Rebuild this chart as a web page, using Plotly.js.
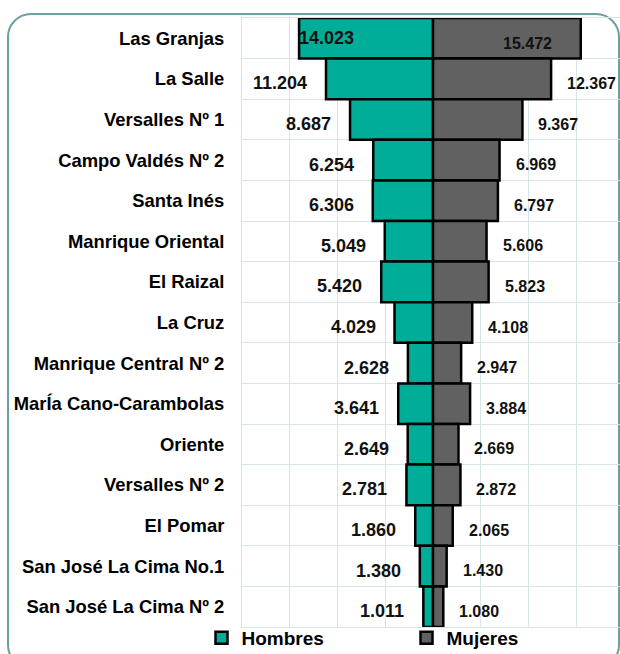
<!DOCTYPE html>
<html>
<head>
<meta charset="utf-8">
<script src="https://cdn.plot.ly/plotly-3.0.1.min.js"></script>
<style>
  html, body { margin: 0; padding: 0; overflow: hidden; background: #ffffff; width: 620px; height: 654px; }
  #frame { position: absolute; left: 7px; top: 13px; width: 613px; height: 656px; box-sizing: border-box;
           border: 2.5px solid #6a9fa3; border-radius: 24px; z-index: 0; }
  #chart { position: absolute; left: 0; top: 0; width: 630px; height: 700px; z-index: 1; }
</style>
</head>
<body>
<div id="frame"></div>
<div id="chart"></div>
<script>
const categories = [
  'Las Granjas', 'La Salle', 'Versalles Nº 1', 'Campo Valdés Nº 2', 'Santa Inés',
  'Manrique Oriental', 'El Raizal', 'La Cruz', 'Manrique Central Nº 2', 'MarÍa Cano-Carambolas',
  'Oriente', 'Versalles Nº 2', 'El Pomar', 'San José La Cima No.1', 'San José La Cima Nº 2'
];
const hombres = [14023, 11204, 8687, 6254, 6306, 5049, 5420, 4029, 2628, 3641, 2649, 2781, 1860, 1380, 1011];
const mujeres = [15472, 12367, 9367, 6969, 6797, 5606, 5823, 4108, 2947, 3884, 2669, 2872, 2065, 1430, 1080];

const FONT = 'Liberation Sans, Arial, sans-serif';
const fmt = v => Math.abs(v).toString().replace(/\B(?=(\d{3})+(?!\d))/g, '.');
const insideLimit = 13000; // labels of longer bars do not fit outside the axis range

const traces = [
  {
    type: 'bar', orientation: 'h', name: 'Hombres',
    y: categories, x: hombres.map(v => -v),
    marker: { color: '#00ad99', line: { color: '#000000', width: 2.5 } },
    hoverinfo: 'skip'
  },
  {
    type: 'bar', orientation: 'h', name: 'Mujeres',
    y: categories, x: mujeres,
    marker: { color: '#616161', line: { color: '#000000', width: 2.5 } },
    hoverinfo: 'skip'
  }
];

const annotations = [];
categories.forEach((c, i) => {
  const hIn = hombres[i] > insideLimit;
  annotations.push({
    xref: 'x', yref: 'y', x: -hombres[i], y: c, text: fmt(hombres[i]), showarrow: false,
    xanchor: hIn ? 'left' : 'right', xshift: hIn ? -1 : -18, yshift: hIn ? 0 : -4.5,
    borderpad: 0, font: { family: FONT, size: 18, weight: 'bold', color: '#111111' }
  });
  const mIn = mujeres[i] > insideLimit;
  annotations.push({
    xref: 'x', yref: 'y', x: mujeres[i], y: c, text: fmt(mujeres[i]), showarrow: false,
    xanchor: mIn ? 'right' : 'left', xshift: mIn ? -28 : 15, yshift: mIn ? -5 : -4.5,
    borderpad: 0, font: { family: FONT, size: 16, weight: 'bold', color: '#111111' }
  });
});

const layout = {
  width: 630, height: 700,
  margin: { l: 242, r: 6, t: 18, b: 73 },
  paper_bgcolor: 'rgba(0,0,0,0)', plot_bgcolor: 'rgba(0,0,0,0)',
  barmode: 'relative', bargap: 0,
  font: { family: FONT, color: '#000000' },
  xaxis: {
    range: [-20000, 20000], dtick: 5000, tick0: 0, showticklabels: false, ticks: '',
    showgrid: true, gridcolor: '#d6e5e5', gridwidth: 1, zeroline: false,
    showline: true, mirror: true, linecolor: '#d6e5e5', linewidth: 1, fixedrange: true
  },
  yaxis: {
    type: 'category', autorange: 'reversed', tickson: 'boundaries', ticks: '',
    showgrid: true, gridcolor: '#d6e5e5', gridwidth: 1,
    showline: true, mirror: true, linecolor: '#d6e5e5', linewidth: 1,
    ticklabelstandoff: 13, ticklabelshift: -0.5,
    tickfont: { family: FONT, size: 18.4, weight: 'bold', color: '#000000' }, fixedrange: true
  },
  showlegend: true,
  legend: {
    orientation: 'h', x: -0.106, xanchor: 'left', y: -0.018, yanchor: 'middle',
    entrywidth: 160, entrywidthmode: 'pixels', itemwidth: 30,
    font: { family: FONT, size: 19, weight: 'bold', color: '#000000' },
    bgcolor: 'rgba(0,0,0,0)', borderwidth: 0, traceorder: 'normal'
  },
  annotations: annotations
};

Plotly.newPlot('chart', traces, layout, { staticPlot: true, displayModeBar: false });
</script>
</body>
</html>
